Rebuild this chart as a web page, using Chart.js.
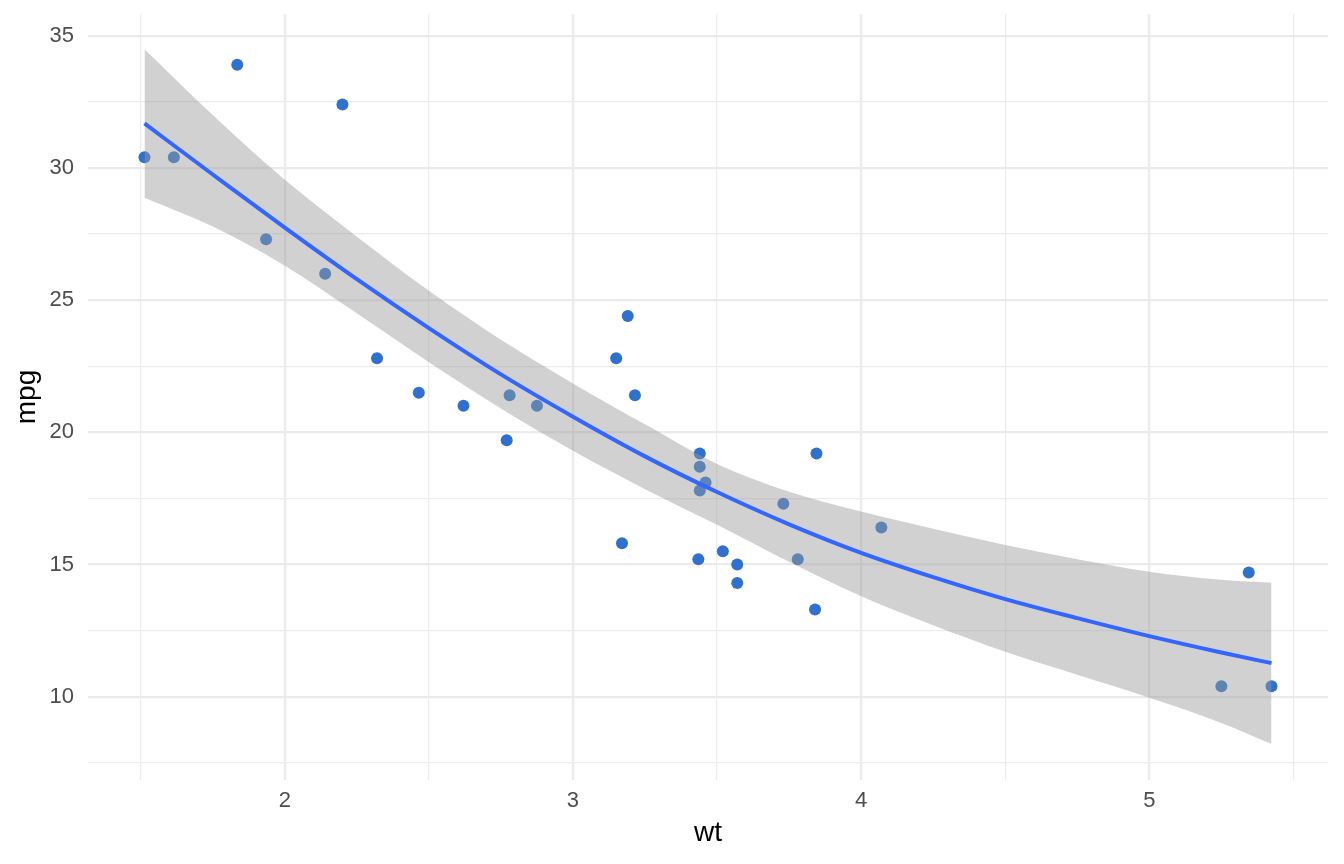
<!DOCTYPE html>
<html>
<head>
<meta charset="utf-8">
<script src="https://cdn.jsdelivr.net/npm/chart.js@4.4.1/dist/chart.umd.min.js"></script>
<style>
  html, body { margin: 0; padding: 0; background: #fff; }
  #wrap { width: 1344px; height: 864px; }
</style>
</head>
<body>
<div id="wrap"><canvas id="c" width="1344" height="864"></canvas></div>
<script>
// mtcars: Gewicht (1000 lbs) und Verbrauch (mpg)
const wt  = [2.620, 2.875, 2.320, 3.215, 3.440, 3.460, 3.570, 3.190, 3.150, 3.440, 3.440,
             4.070, 3.730, 3.780, 5.250, 5.424, 5.345, 2.200, 1.615, 1.835, 2.465, 3.520,
             3.435, 3.840, 3.845, 1.935, 2.140, 1.513, 3.170, 2.770, 3.570, 2.780];
const mpg = [21.0, 21.0, 22.8, 21.4, 18.7, 18.1, 14.3, 24.4, 22.8, 19.2, 17.8,
             16.4, 17.3, 15.2, 10.4, 10.4, 14.7, 32.4, 30.4, 33.9, 21.5, 15.5,
             15.2, 13.3, 19.2, 27.3, 26.0, 30.4, 15.8, 19.7, 15.0, 21.4];

// Glättungskurve und Konfidenzband
const fitWt  = [1.513, 1.75, 2.0, 2.25, 2.5, 2.75, 3.0, 3.25, 3.5, 3.75, 4.0, 4.25, 4.5, 4.75, 5.0, 5.25, 5.424];
const fitMpg = [31.68, 29.75, 27.74, 25.79, 23.94, 22.19, 20.59, 19.09, 17.74, 16.52, 15.44, 14.52, 13.69, 12.97, 12.29, 11.67, 11.27];
const ciHigh = [34.49, 32.0, 29.55, 27.4, 25.35, 23.5, 21.85, 20.3, 18.8, 17.75, 17.0, 16.35, 15.74, 15.2, 14.73, 14.42, 14.31];
const ciLow  = [28.87, 27.78, 26.3, 24.5, 22.65, 20.9, 19.3, 17.85, 16.5, 15.1, 13.8, 12.7, 11.7, 10.83, 9.96, 9.01, 8.21];

// Achsen
const xTicks = [1.5, 2, 2.5, 3, 3.5, 4, 4.5, 5, 5.5];
const xLabels = ['', '2', '', '3', '', '4', '', '5', ''];
const yTicks = [7.5, 10, 12.5, 15, 17.5, 20, 22.5, 25, 27.5, 30, 32.5, 35];
const yLabels = ['', '10', '', '15', '', '20', '', '25', '', '30', '', '35'];

const pts = (xs, ys) => xs.map((x, i) => ({ x, y: ys[i] }));

const GRID = '#ebebeb';
const TICK_FONT = { family: 'Liberation Sans, Arial, sans-serif', size: 22 };
const TITLE_FONT = { family: 'Liberation Sans, Arial, sans-serif', size: 28 };

const majorX = v => Number.isInteger(v);
const majorY = v => v % 5 === 0;

new Chart(document.getElementById('c').getContext('2d'), {
  type: 'scatter',
  data: {
    datasets: [
      {
        label: 'Daten',
        data: pts(wt, mpg),
        backgroundColor: '#2f71cd',
        borderWidth: 0,
        pointRadius: 6,
        order: 3,
      },
      {
        label: 'obere Grenze',
        data: pts(fitWt, ciHigh),
        showLine: true,
        pointRadius: 0,
        borderWidth: 0,
        borderColor: 'rgba(0,0,0,0)',
        backgroundColor: 'rgba(153,153,153,0.45)',
        cubicInterpolationMode: 'monotone',
        fill: '+1',
        order: 2,
      },
      {
        label: 'untere Grenze',
        data: pts(fitWt, ciLow),
        showLine: true,
        pointRadius: 0,
        borderWidth: 0,
        borderColor: 'rgba(0,0,0,0)',
        cubicInterpolationMode: 'monotone',
        fill: false,
        order: 1,
      },
      {
        label: 'Glättung',
        data: pts(fitWt, fitMpg),
        showLine: true,
        pointRadius: 0,
        borderColor: '#3366ff',
        borderWidth: 4,
        cubicInterpolationMode: 'monotone',
        fill: false,
        order: 0,
      },
    ],
  },
  options: {
    responsive: false,
    animation: false,
    events: [],
    layout: { padding: { left: 0, top: 14, right: 16, bottom: 0 } },
    plugins: { legend: { display: false }, tooltip: { enabled: false } },
    scales: {
      x: {
        type: 'linear',
        min: 1.317,
        max: 5.620,
        afterBuildTicks: s => { s.ticks = xTicks.map(v => ({ value: v })); },
        afterFit: s => { s.height = 84; s.paddingLeft = 0; s.paddingRight = 0; },
        ticks: {
          autoSkip: false,
          maxRotation: 0,
          padding: 8,
          color: '#4d4d4d',
          font: TICK_FONT,
          callback: (v, i) => xLabels[i],
        },
        grid: {
          drawTicks: false,
          color: GRID,
          lineWidth: ctx => majorX(ctx.tick.value) ? 2.2 : 1.2,
        },
        border: { display: false },
        title: { display: true, text: 'wt', color: '#000', font: TITLE_FONT, padding: { top: 0, bottom: 14 } },
      },
      y: {
        type: 'linear',
        min: 6.85,
        max: 35.82,
        afterBuildTicks: s => { s.ticks = yTicks.map(v => ({ value: v })); },
        afterFit: s => { s.width = 88; s.paddingTop = 0; s.paddingBottom = 0; },
        ticks: {
          autoSkip: false,
          padding: 14,
          color: '#4d4d4d',
          font: TICK_FONT,
          callback: (v, i) => yLabels[i],
        },
        grid: {
          drawTicks: false,
          color: GRID,
          lineWidth: ctx => majorY(ctx.tick.value) ? 2.2 : 1.2,
        },
        border: { display: false },
        title: { display: true, text: 'mpg', color: '#000', font: TITLE_FONT, padding: { top: 10, bottom: 0 } },
      },
    },
  },
});
</script>
</body>
</html>
